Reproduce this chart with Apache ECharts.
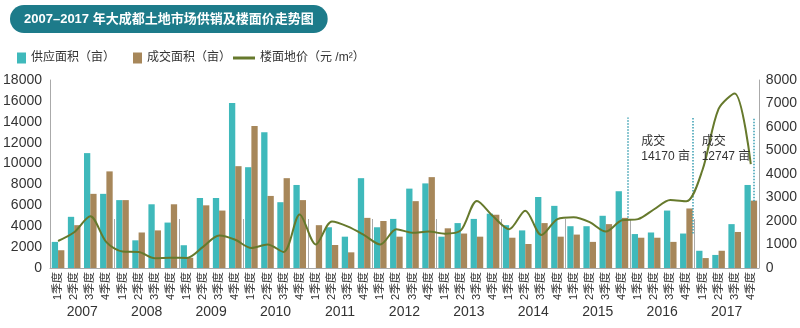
<!DOCTYPE html>
<html>
<head>
<meta charset="utf-8">
<script src="https://cdn.jsdelivr.net/npm/echarts@6/dist/echarts.min.js"></script>
<style>
html,body{margin:0;padding:0;background:#fff;}
#chart{width:800px;height:328px;}
</style>
</head>
<body>
<div id="chart"></div>
<script>
const years = ['2007','2008','2009','2010','2011','2012','2013','2014','2015','2016','2017'];
const quarterLabels = ['1季度','2季度','3季度','4季度'];
const supplyArea = [2500,4900,11000,7100, 6500,2650,6100,4350, 2180,6700,6700,15800, 9650,13000,6300,7950, 0,3900,3000,8600, 3900,4700,7600,8100, 3000,4300,4700,5200, 4100,3600,6800,5950, 4000,4000,5000,7350, 3250,3400,5500,3300, 1650,1250,4200,7950];
const dealArea = [1700,4100,7100,9250, 6500,3400,3600,6100, 980,6000,5500,9750, 13600,6900,8600,6500, 4100,2200,1500,4800, 4500,3000,6400,8700, 3800,3300,3000,5100, 2900,2300,4300,3000, 3200,2500,4200,4800, 2900,2900,2500,5700, 950,1650,3450,6450];
const floorPrice = [1150,1520,2200,1100, 700,680,420,440, 430,900,1380,1200, 850,1000,680,2280, 1000,1980,1760,1400, 1000,1650,1500,1550, 1460,1600,2850,2200, 1650,2440,1400,2080, 2160,1950,1550,2030, 2080,2500,2890,2840, 4170,6770,7430,4420];
const leftTicks = {min:0, max:18000, interval:2000};
const rightTicks = {min:0, max:8000, interval:1000};
const dividerPos = [35.85, 39.9, 43.7];
const dividerBottom = [4800, 3300, 6400];
const dividerTop = 14400;
const notes = [['成交','14170 亩'],['成交','12747 亩']];

const categories = [];
years.forEach(y => quarterLabels.forEach(q => categories.push(q)));

const FONT = "'Liberation Sans', 'Noto Sans CJK SC', sans-serif";
const chart = echarts.init(document.getElementById('chart'), null, {renderer:'canvas'});
const C_TEAL = '#3fb9bb', C_BROWN = '#a7875a', C_LINE = '#66792c', C_TXT = '#333';
const plain = v => String(v);

const option = {
  animation: false,
  textStyle: {fontFamily: FONT},
  title: {
    text: '2007–2017 年大成都土地市场供销及楼面价走势图',
    left: 10, top: 5,
    backgroundColor: '#1d7b8a', borderRadius: 15,
    padding: [8, 14, 7, 14],
    textStyle: {color:'#fff', fontSize:13, fontWeight:'bold', fontFamily: FONT}
  },
  legend: [{
    left: 12, top: 47, itemWidth: 9, itemHeight: 11, itemGap: 18,
    textStyle: {color: C_TXT, fontSize: 12, fontFamily: FONT},
    data: [{name:'供应面积（亩）', icon:'rect'}, {name:'成交面积（亩）', icon:'rect'}]
  },{
    left: 228, top: 47, itemWidth: 22, itemHeight: 3,
    textStyle: {color: C_TXT, fontSize: 12, fontFamily: FONT},
    data: [{name:'楼面地价（元 /m²）', icon:'rect'}]
  }],
  grid: {left: 50, right: 40, top: 80, bottom: 60},
  xAxis: [{
    type: 'category', data: categories, position: 'bottom',
    axisLine: {show: true, lineStyle: {color: '#aaa', width: 1}},
    axisTick: {show: false}, splitLine: {show: false}, splitArea: {show: false},
    axisLabel: {interval: 0, rotate: 90, fontSize: 11, color: C_TXT, margin: 4, fontFamily: FONT}
  },{
    type: 'category', data: years, position: 'bottom', offset: 50,
    axisLine: {show: false}, splitLine: {show: false}, splitArea: {show: false},
    axisTick: {show: true, inside: true, length: 49, interval: 0, lineStyle: {color: '#aaa', width: 1}},
    axisLabel: {interval: 0, fontSize: 14, color: C_TXT, margin: -13, fontFamily: FONT}
  },{
    type: 'value', min: 0, max: 44, show: false, splitLine: {show: false}
  }],
  yAxis: [{
    type: 'value', min: leftTicks.min, max: leftTicks.max, interval: leftTicks.interval,
    axisLine: {show: true, lineStyle: {color: '#aaa'}},
    axisTick: {show: false}, splitLine: {show: false},
    axisLabel: {fontSize: 14, color: C_TXT, margin: 8, fontFamily: FONT, formatter: plain}
  },{
    type: 'value', min: rightTicks.min, max: rightTicks.max, interval: rightTicks.interval,
    position: 'right',
    axisLine: {show: true, lineStyle: {color: '#aaa'}},
    axisTick: {show: false}, splitLine: {show: false},
    axisLabel: {fontSize: 14, color: C_TXT, margin: 7, fontFamily: FONT, formatter: plain}
  }],
  series: [{
    name: '供应面积（亩）', type: 'bar', data: supplyArea, barWidth: 6.3, barGap: '0%',
    itemStyle: {color: C_TEAL}
  },{
    name: '成交面积（亩）', type: 'bar', data: dealArea, barWidth: 6.3, barGap: '0%',
    itemStyle: {color: C_BROWN}
  },{
    name: '楼面地价（元 /m²）', type: 'line', yAxisIndex: 1, data: floorPrice,
    smooth: 0.3, symbol: 'none', z: 5,
    lineStyle: {color: C_LINE, width: 2}, itemStyle: {color: C_LINE}
  },{
    name: 'dividers', type: 'line', xAxisIndex: 2, yAxisIndex: 0,
    data: [], symbol: 'none', silent: true, z: 6,
    markLine: {
      silent: true, symbol: ['none','none'], label: {show: false},
      lineStyle: {color: '#3a9fb2', type: 'dotted', width: 1.5},
      data: dividerPos.map((p, i) => [{coord: [p, dividerBottom[i]]}, {coord: [p, dividerTop]}])
    }
  }]
};
chart.setOption(option);

// annotation texts, positioned through the hidden index axis
const g = [];
[[36.7, 0], [40.45, 1]].forEach(([xi, k]) => {
  const p1 = chart.convertToPixel({xAxisIndex: 2, yAxisIndex: 0}, [xi, 11960]);
  const p2 = chart.convertToPixel({xAxisIndex: 2, yAxisIndex: 0}, [xi, 10520]);
  g.push({type:'text', left: p1[0], top: p1[1] - 7, style: {text: notes[k][0], fill: C_TXT, font: '12px ' + FONT}, z: 10});
  g.push({type:'text', left: p2[0], top: p2[1] - 7, style: {text: notes[k][1], fill: C_TXT, font: '12px ' + FONT}, z: 10});
});
chart.setOption({graphic: g});
</script>
</body>
</html>
